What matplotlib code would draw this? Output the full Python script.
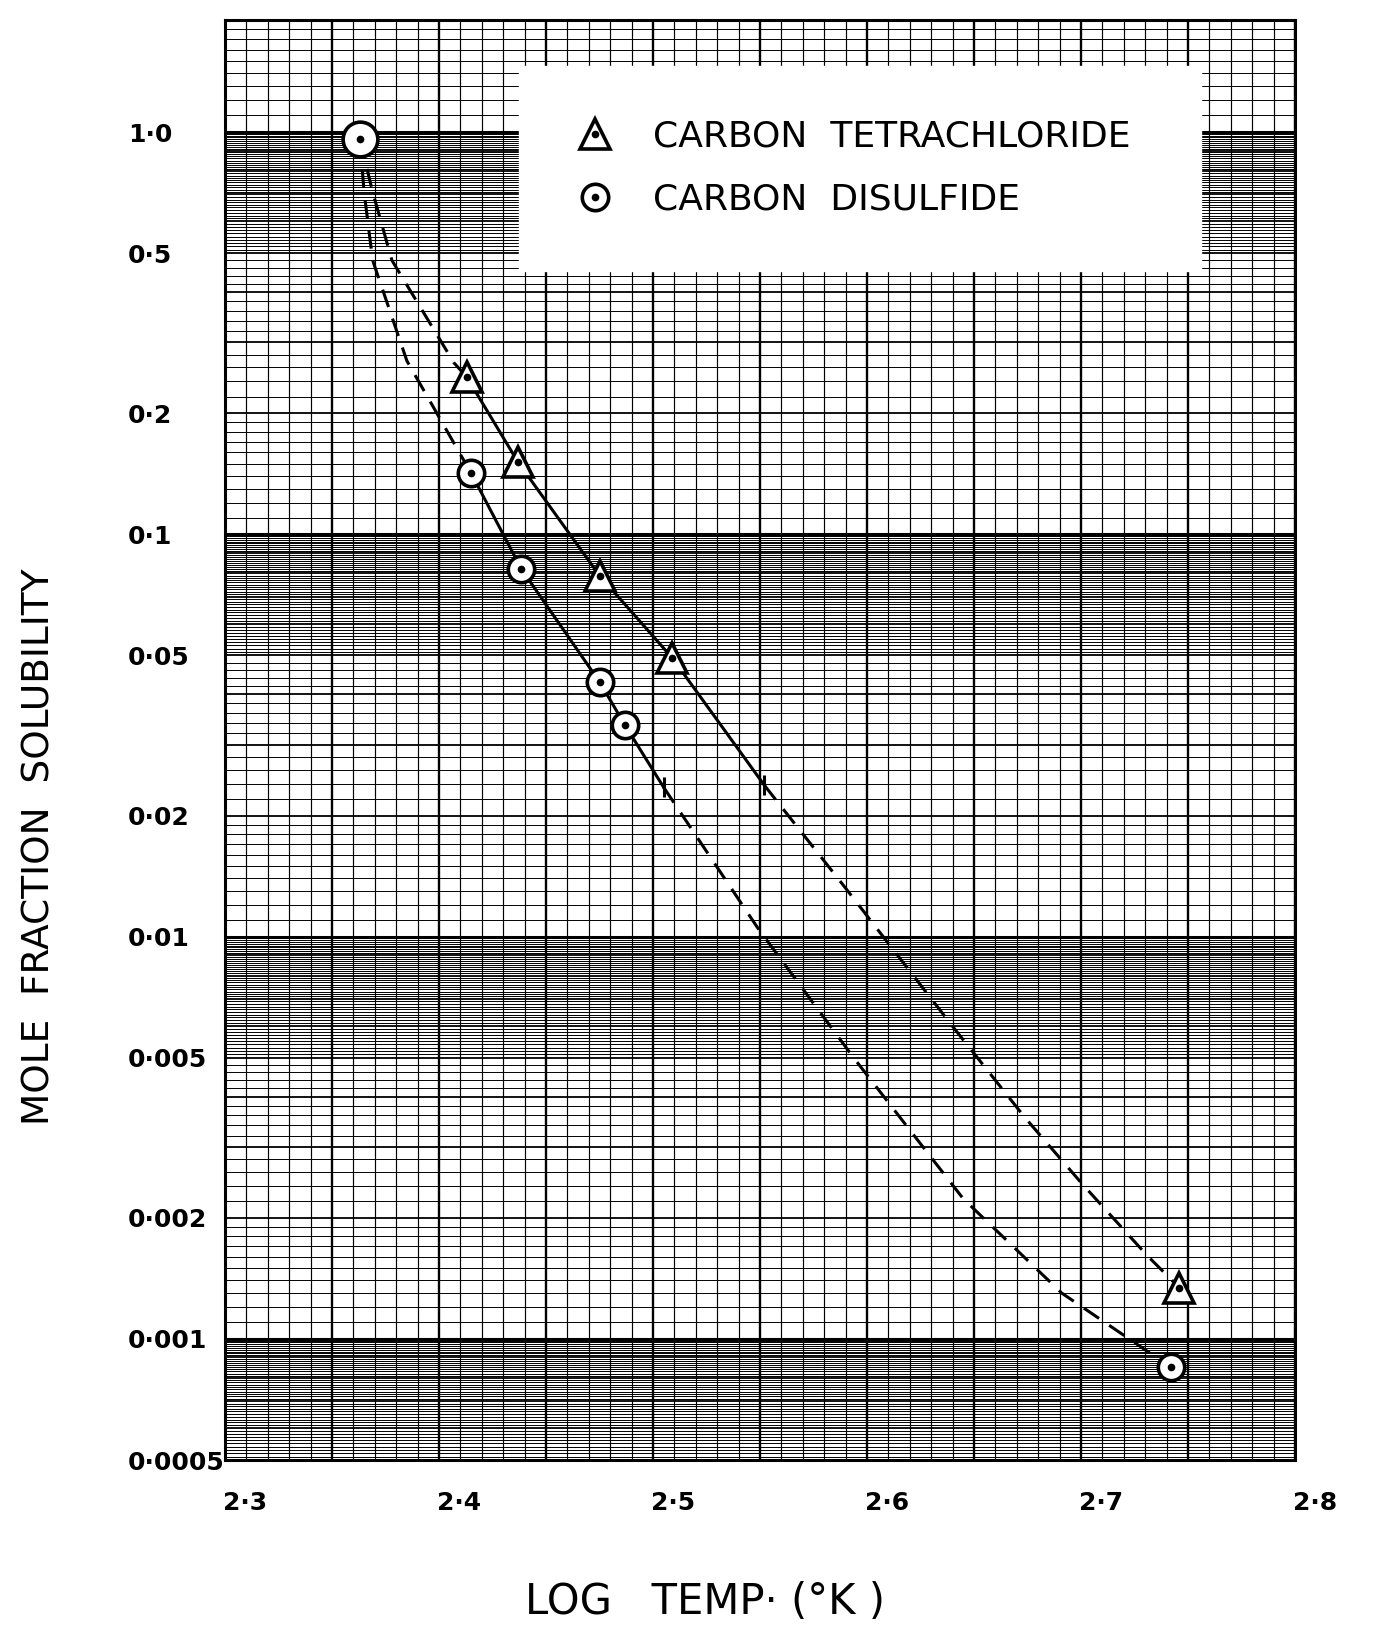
"""Solubility vs log temperature on semi-log graph paper (scanned figure redraw)."""
import numpy as np
import matplotlib.pyplot as plt
import matplotlib.transforms as mtransforms
from matplotlib.lines import Line2D
from matplotlib.legend_handler import HandlerTuple

# --- data --------------------------------------------------------------------
# shared starting point (pure solute), drawn as the big circle at the top
mp_x = [2.363]
mp_y = [0.96]

# carbon disulfide (circles)
cs2_x = [2.415, 2.4385, 2.475, 2.487, 2.742]
cs2_y = [0.142, 0.082, 0.043, 0.0335, 0.00085]

# carbon tetrachloride (triangles)
ccl4_x = [2.413, 2.437, 2.475, 2.509, 2.746]
ccl4_y = [0.246, 0.151, 0.079, 0.0493, 0.00134]

# hand-drawn curves (top dashed / solid / tail dashed)
cs2_top_x = [2.363, 2.365, 2.369, 2.385, 2.415]
cs2_top_y = [0.96, 0.71, 0.48, 0.27, 0.142]
cs2_mid_x = [2.415, 2.4385, 2.475, 2.487, 2.505]
cs2_mid_y = [0.142, 0.082, 0.043, 0.0335, 0.0235]
cs2_tail_x = [2.505, 2.549, 2.594, 2.645, 2.691, 2.7225, 2.742]
cs2_tail_y = [0.0235, 0.0105, 0.00498, 0.00223, 0.0013, 0.0010, 0.00085]

ccl4_top_x = [2.363, 2.369, 2.378, 2.407, 2.413]
ccl4_top_y = [0.96, 0.71, 0.48, 0.267, 0.246]
ccl4_mid_x = [2.413, 2.437, 2.475, 2.509, 2.552]
ccl4_mid_y = [0.246, 0.151, 0.079, 0.0493, 0.0238]
ccl4_tail_x = [2.552, 2.590, 2.641, 2.674, 2.7005, 2.731, 2.746]
ccl4_tail_y = [0.0238, 0.0132, 0.00589, 0.00354, 0.00243, 0.00161, 0.00134]

# small cross strokes where the solid lines turn dashed
break_x = [2.505, 2.552]
break_y = [0.0235, 0.0238]

x_ticks = [2.3, 2.4, 2.5, 2.6, 2.7, 2.8]
x_labels = ["2·3", "2·4", "2·5", "2·6", "2·7", "2·8"]
y_ticks = [1.0, 0.5, 0.2, 0.1, 0.05, 0.02, 0.01, 0.005, 0.002, 0.001, 0.0005]
y_labels = ["1·0", "0·5", "0·2", "0·1", "0·05", "0·02", "0·01",
            "0·005", "0·002", "0·001", "0·0005"]

# --- figure -------------------------------------------------------------------
W, H = 1383, 1627
fig = plt.figure(figsize=(W / 100, H / 100), dpi=100)
ax = fig.add_axes([225 / W, 1 - 1460 / H, 1070 / W, 1440 / H])
ax.set_yscale("log")
ax.set_xlim(2.3, 2.8)
ax.set_ylim(0.0005, 1.9)

# graph-paper rulings: x every 0.01 (heavier every 0.05)
for i in range(51):
    v = 2.3 + i * 0.01
    lw = 1.7 if i % 5 == 0 else 0.85
    ax.axvline(v, color="black", lw=lw, zorder=1)

# log rulings per decade: 1-2 by 0.1, 2-5 by 0.2, 5-10 by 0.1
mant = np.concatenate([np.arange(1, 2, 0.1), np.arange(2, 5, 0.2), np.arange(5, 10, 0.1)])
for dec in [1e-4, 1e-3, 1e-2, 1e-1, 1.0]:
    for m in mant:
        v = dec * m
        if v < 0.0005 or v > 1.9:
            continue
        if abs(m - 1) < 1e-9:
            lw = 2.2
        elif abs(m - round(m)) < 1e-9:
            lw = 1.3
        else:
            lw = 0.7
        ax.axhline(v, color="black", lw=lw, zorder=1)

for s in ax.spines.values():
    s.set_linewidth(2.2)

# curves
dash = dict(color="black", lw=2.2, dashes=(6, 4), zorder=3)
solid = dict(color="black", lw=2.2, zorder=3)
ax.plot(cs2_top_x, cs2_top_y, **dash)
ax.plot(cs2_mid_x, cs2_mid_y, **solid)
ax.plot(cs2_tail_x, cs2_tail_y, **dash)
ax.plot(ccl4_top_x, ccl4_top_y, **dash)
ax.plot(ccl4_mid_x, ccl4_mid_y, **solid)
ax.plot(ccl4_tail_x, ccl4_tail_y, **dash)
ax.plot(break_x, break_y, ls="none", marker="|", ms=14, mew=2.2, color="black", zorder=3)

# markers: open symbol with a dot in the middle
mk = dict(ls="none", mfc="white", mec="black", mew=2.6, zorder=4)
ax.plot(mp_x, mp_y, marker="o", ms=25, **mk)
ax.plot(cs2_x, cs2_y, marker="o", ms=19, **mk)
ax.plot(ccl4_x, ccl4_y, marker="^", ms=21, **mk)
dot = dict(ls="none", marker="o", ms=4.5, color="black", zorder=5)
ax.plot(mp_x, mp_y, **dot)
ax.plot(cs2_x, cs2_y, **dot)
ax.plot(ccl4_x, ccl4_y, **dot)

# legend (white patch on the paper)
h_tri = (Line2D([], [], marker="^", ms=21, **mk), Line2D([], [], **dot))
h_cir = (Line2D([], [], marker="o", ms=19, **mk), Line2D([], [], **dot))
leg = ax.legend([h_tri, h_cir], ["CARBON  TETRACHLORIDE", "CARBON  DISULFIDE"],
                handler_map={tuple: HandlerTuple(ndivide=1)},
                loc="center", bbox_to_anchor=(0.275, 0.823, 0.637, 0.148), mode="expand",
                fontsize=26, frameon=True, fancybox=False, framealpha=1,
                facecolor="white", edgecolor="white", borderpad=1.5,
                labelspacing=0.8, handlelength=1.2, handletextpad=1.0,
                borderaxespad=0)
leg.set_zorder(6)

# ticks and labels
ax.set_xticks(x_ticks)
ax.set_xticklabels(x_labels, fontsize=18, fontweight="bold")
ax.set_yticks(y_ticks)
ax.set_yticklabels(y_labels, fontsize=18, fontweight="bold")
ax.yaxis.set_minor_locator(plt.NullLocator())
ax.xaxis.set_minor_locator(plt.NullLocator())
ax.tick_params(axis="both", length=0)
ax.tick_params(axis="y", pad=70)
ax.tick_params(axis="x", pad=22)
for lab in ax.get_yticklabels():
    lab.set_ha("left")
shift = mtransforms.ScaledTranslation(0.2, 0, fig.dpi_scale_trans)
for lab in ax.get_xticklabels():
    lab.set_transform(lab.get_transform() + shift)

ax.set_xlabel("LOG   TEMP· (°K )", fontsize=30)
ax.set_ylabel("MOLE  FRACTION  SOLUBILITY", fontsize=27)
ax.xaxis.set_label_coords(0.449, -0.084)
ax.yaxis.set_label_coords(-0.157, 0.426)

fig.savefig("out.png", dpi=100, facecolor="white")
